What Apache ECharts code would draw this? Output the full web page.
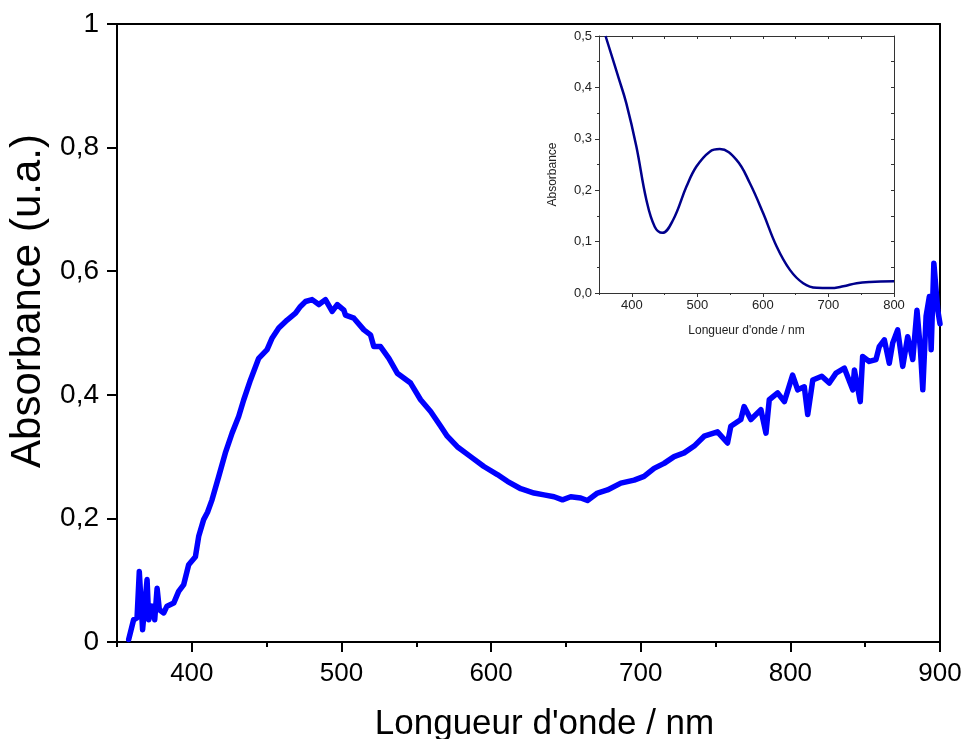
<!DOCTYPE html>
<html>
<head>
<meta charset="utf-8">
<script src="https://cdn.jsdelivr.net/npm/echarts@6/dist/echarts.min.js"></script>
<style>html,body{margin:0;padding:0;background:#fff}#c{width:965px;height:739px}</style>
</head>
<body>
<div id="c"></div>
<script>
// Main spectrum (wavelength nm, absorbance u.a.)
const mainWavelength = [357.8,361.1,363.4,364.9,367.1,370.1,371.2,373.4,375.2,376.8,378.3,381.2,383.4,387.9,391.2,394.6,397.9,402.4,404.6,407.9,410.5,413.5,418,422.4,426.9,431.3,434.7,439.2,444.7,450.3,453.7,458.1,463.7,469.3,472.6,476,480.4,484.9,489.3,493.8,497.2,501.6,502.7,508.3,515,519.4,521.6,526.1,531.7,537.3,546.2,552.9,559.6,566.3,570.7,577.4,586.3,595.2,604.2,610.9,619.8,628.7,635.4,642.1,647.7,653.2,659.9,664.4,671.1,677.8,686.7,695.6,702.2,708.9,715.6,722.3,729,735.7,742.4,751.3,758,760.2,766.9,769.1,773.6,780.3,783.7,785.9,791.5,796,801.5,804.9,809.3,811.6,815,821,826,830.5,836.1,841.7,842.8,846.7,848.3,852.7,857.2,859.4,862.8,866.1,868.4,871.7,875.1,878.4,881.8,884.6,886.9,888.5,890.7,892.9,894.1,895.9,898.5,900];
const mainAbsorbance = [0.004,0.036,0.039,0.114,0.020,0.101,0.036,0.058,0.036,0.087,0.052,0.047,0.058,0.063,0.082,0.093,0.125,0.138,0.171,0.198,0.210,0.230,0.268,0.306,0.338,0.365,0.392,0.424,0.459,0.473,0.492,0.508,0.521,0.532,0.543,0.551,0.554,0.546,0.554,0.535,0.546,0.537,0.529,0.524,0.505,0.497,0.478,0.478,0.459,0.435,0.419,0.392,0.373,0.349,0.333,0.316,0.300,0.284,0.271,0.260,0.248,0.241,0.238,0.235,0.230,0.235,0.233,0.229,0.241,0.246,0.257,0.262,0.268,0.281,0.289,0.300,0.306,0.317,0.333,0.340,0.322,0.349,0.360,0.381,0.360,0.376,0.338,0.392,0.403,0.389,0.432,0.408,0.413,0.368,0.424,0.430,0.419,0.435,0.443,0.408,0.440,0.389,0.462,0.454,0.457,0.478,0.489,0.451,0.484,0.505,0.446,0.494,0.457,0.537,0.473,0.408,0.527,0.559,0.473,0.613,0.537,0.515];

// Inset spectrum
const insetWavelength = [360,380,391.7,407,422.3,435,446.7,463,483.4,498.6,519,534.3,559.7,580,600.5,620.8,641.2,661.5,682,702,722.6,743,763.4,800];
const insetAbsorbance = [0.500,0.418,0.369,0.285,0.181,0.129,0.117,0.142,0.207,0.246,0.275,0.280,0.259,0.214,0.155,0.091,0.045,0.019,0.010,0.0095,0.013,0.019,0.0214,0.0227];

// Tick values
const mainXMajor = [400,500,600,700,800,900];
const mainXMinor = [350,450,550,650,750,850];
const insetXMajor = [400,500,600,700,800];
const insetXMinor = [350,450,550,650,750];
const insetXTop = [350,400,450,500,550,600,650,700,750,800];
const insetYMinor = [0.05,0.15,0.25,0.35,0.45];
const insetYRight = [0.05,0.1,0.15,0.2,0.25,0.3,0.35,0.4,0.45];

const mainData = mainWavelength.map((x,i)=>[x,mainAbsorbance[i]]);
const insetData = insetWavelength.map((x,i)=>[x,insetAbsorbance[i]]);

const FONT = 'Liberation Sans, Arial, sans-serif';
const BLK = '#000';
const INS = '#333';

const chart = echarts.init(document.getElementById('c'), null, {renderer:'canvas'});
chart.setOption({
  animation:false,
  backgroundColor:'#fff',
  textStyle:{fontFamily:FONT},
  grid:[
    {left:117, right:25, top:24, bottom:97, containLabel:false, outerBoundsMode:'none'},
    {left:599, right:71, top:36, bottom:446, containLabel:false, outerBoundsMode:'none'}
  ],
  xAxis:[
    {gridIndex:0, type:'value', position:'bottom', min:350, max:900,
     axisLine:{show:true, onZero:false, lineStyle:{color:BLK,width:2}},
     axisTick:{show:true, customValues:mainXMajor, length:10, lineStyle:{color:BLK,width:2}},
     axisLabel:{customValues:mainXMajor, fontSize:26, color:BLK, margin:19, fontFamily:FONT},
     splitLine:{show:false},
     name:"Longueur d'onde / nm", nameLocation:'middle', nameGap:65,
     nameTextStyle:{fontSize:35, color:BLK, fontFamily:FONT, padding:[0,0,0,32]}},
    {gridIndex:0, type:'value', position:'bottom', min:350, max:900,
     axisLine:{show:false, onZero:false},
     axisTick:{show:true, customValues:mainXMinor, length:5, lineStyle:{color:BLK,width:2}},
     axisLabel:{show:false}, splitLine:{show:false}},
    {gridIndex:0, type:'value', position:'top', min:350, max:900,
     axisLine:{show:true, onZero:false, lineStyle:{color:BLK,width:2}},
     axisTick:{show:false}, axisLabel:{show:false}, splitLine:{show:false}},
    {gridIndex:1, type:'value', position:'bottom', min:350, max:800,
     axisLine:{show:true, onZero:false, lineStyle:{color:INS,width:1}},
     axisTick:{show:true, customValues:insetXMajor, length:4, lineStyle:{color:INS,width:1}},
     axisLabel:{customValues:insetXMajor, fontSize:13, color:'#222', margin:6, fontFamily:FONT},
     splitLine:{show:false},
     name:"Longueur d'onde / nm", nameLocation:'middle', nameGap:32,
     nameTextStyle:{fontSize:12, color:'#222', fontFamily:FONT}},
    {gridIndex:1, type:'value', position:'bottom', min:350, max:800,
     axisLine:{show:false, onZero:false},
     axisTick:{show:true, customValues:insetXMinor, length:2, lineStyle:{color:INS,width:1}},
     axisLabel:{show:false}, splitLine:{show:false}},
    {gridIndex:1, type:'value', position:'top', min:350, max:800,
     axisLine:{show:true, onZero:false, lineStyle:{color:INS,width:1}},
     axisTick:{show:true, inside:true, customValues:insetXTop, length:3, lineStyle:{color:INS,width:1}},
     axisLabel:{show:false}, splitLine:{show:false}}
  ],
  yAxis:[
    {gridIndex:0, type:'value', position:'left', min:0, max:1, interval:0.2,
     axisLine:{show:true, onZero:false, lineStyle:{color:BLK,width:2}},
     axisTick:{show:true, length:10, lineStyle:{color:BLK,width:2}},
     axisLabel:{fontSize:28, color:BLK, margin:18, fontFamily:FONT,
       formatter:v=>String(+v.toFixed(1)).replace('.',',')},
     splitLine:{show:false},
     name:'Absorbance (u.a.)', nameLocation:'middle', nameGap:66,
     nameTextStyle:{fontSize:42, color:BLK, fontFamily:FONT, padding:[0,0,0,64]}},
    {gridIndex:0, type:'value', position:'right', min:0, max:1,
     axisLine:{show:true, onZero:false, lineStyle:{color:BLK,width:2}},
     axisTick:{show:false}, axisLabel:{show:false}, splitLine:{show:false}},
    {gridIndex:1, type:'value', position:'left', min:0, max:0.5, interval:0.1,
     axisLine:{show:true, onZero:false, lineStyle:{color:INS,width:1}},
     axisTick:{show:true, length:4, lineStyle:{color:INS,width:1}},
     axisLabel:{fontSize:13, color:'#222', margin:7, fontFamily:FONT,
       formatter:v=>v.toFixed(1).replace('.',',')},
     splitLine:{show:false},
     name:'Absorbance', nameLocation:'middle', nameGap:40,
     nameTextStyle:{fontSize:12, color:'#222', fontFamily:FONT, padding:[0,20,0,0]}},
    {gridIndex:1, type:'value', position:'left', min:0, max:0.5,
     axisLine:{show:false, onZero:false},
     axisTick:{show:true, customValues:insetYMinor, length:2, lineStyle:{color:INS,width:1}},
     axisLabel:{show:false}, splitLine:{show:false}},
    {gridIndex:1, type:'value', position:'right', min:0, max:0.5,
     axisLine:{show:true, onZero:false, lineStyle:{color:INS,width:1}},
     axisTick:{show:true, inside:true, customValues:insetYRight, length:3, lineStyle:{color:INS,width:1}},
     axisLabel:{show:false}, splitLine:{show:false}}
  ],
  series:[
    {type:'line', xAxisIndex:0, yAxisIndex:0, data:mainData, showSymbol:false,
     lineStyle:{color:'#0000FF', width:5.5, join:'round', cap:'round'}, clip:true, z:3},
    {type:'line', xAxisIndex:3, yAxisIndex:2, data:insetData, showSymbol:false, smooth:0.4,
     lineStyle:{color:'#00008C', width:2.5}, clip:true, z:4}
  ]
});
</script>
</body>
</html>
